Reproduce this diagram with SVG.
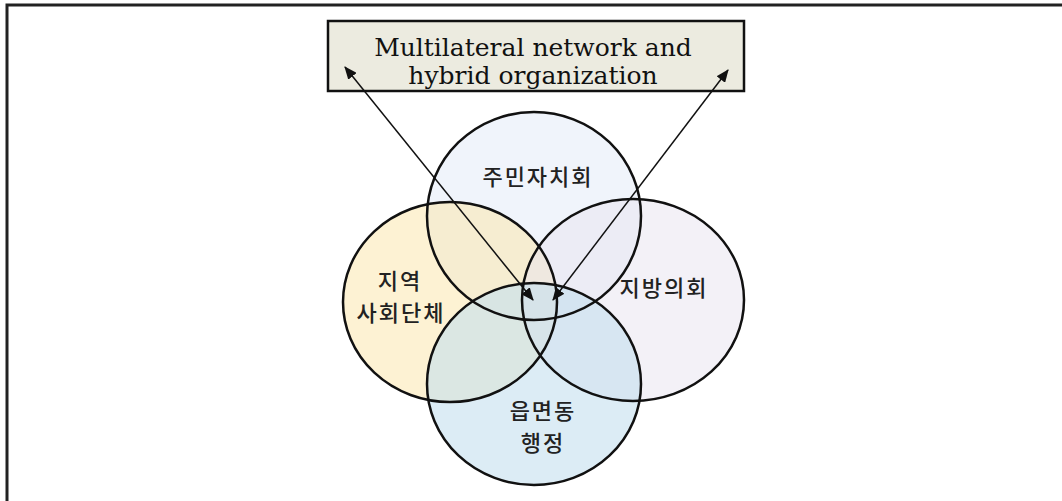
<svg xmlns="http://www.w3.org/2000/svg" width="1062" height="501" viewBox="0 0 1062 501">
<defs>
<style>
.frame{fill:none;stroke:#222;stroke-width:3}
.circ{stroke:none}
.ring{fill:none;stroke:#111;stroke-width:2.5}
.kr{font-family:"Noto Sans CJK KR","Noto Sans",sans-serif;font-size:22px;font-weight:500;letter-spacing:2px;fill:#222;text-anchor:middle}
.en{font-family:"DejaVu Serif","Liberation Serif",serif;font-size:25px;fill:#111;text-anchor:middle}
.conn{stroke:#111;stroke-width:1.5;fill:none}
</style>
<marker id="ah" viewBox="0 0 12 10" refX="11" refY="5" markerWidth="13" markerHeight="11" markerUnits="userSpaceOnUse" orient="auto-start-reverse">
<path d="M0,0 L12,5 L0,10 z" fill="#111"/>
</marker>
</defs>
<rect width="1062" height="501" fill="#fff"/>
<path class="frame" d="M7,501 L7,5 L1062,5"/>
<g id="node-box">
<rect x="328" y="21" width="416" height="70" fill="#ecebe0" stroke="#111" stroke-width="2.5"/>
<text class="en" x="533" y="56">Multilateral network and</text>
<text class="en" x="533" y="84">hybrid organization</text>
</g>
<g id="fills">
<ellipse class="circ" cx="534" cy="216" rx="107" ry="104" fill="#e6ecf8" fill-opacity="0.6"/>
<ellipse class="circ" cx="450" cy="302" rx="107" ry="100" fill="#fbe6a8" fill-opacity="0.5"/>
<ellipse class="circ" cx="633" cy="300" rx="111" ry="101" fill="#e8e4f0" fill-opacity="0.5"/>
<ellipse class="circ" cx="534" cy="384" rx="107" ry="101" fill="#c4e0ef" fill-opacity="0.6"/>
</g>
<g id="node-top"><ellipse class="ring" cx="534" cy="216" rx="107" ry="104"/><text class="kr" x="538" y="185">주민자치회</text></g>
<g id="node-left"><ellipse class="ring" cx="450" cy="302" rx="107" ry="100"/><text class="kr" x="400" y="289">지역</text><text class="kr" x="401" y="321">사회단체</text></g>
<g id="node-right"><ellipse class="ring" cx="633" cy="300" rx="111" ry="101"/><text class="kr" x="664" y="296">지방의회</text></g>
<g id="node-bottom"><ellipse class="ring" cx="534" cy="384" rx="107" ry="101"/><text class="kr" x="543" y="419">읍면동</text><text class="kr" x="543" y="451">행정</text></g>
<g id="connectors">
<line class="conn" x1="345" y1="67" x2="533" y2="300" marker-start="url(#ah)" marker-end="url(#ah)"/>
<line class="conn" x1="728" y1="70" x2="553" y2="300" marker-start="url(#ah)" marker-end="url(#ah)"/>
</g>
</svg>
